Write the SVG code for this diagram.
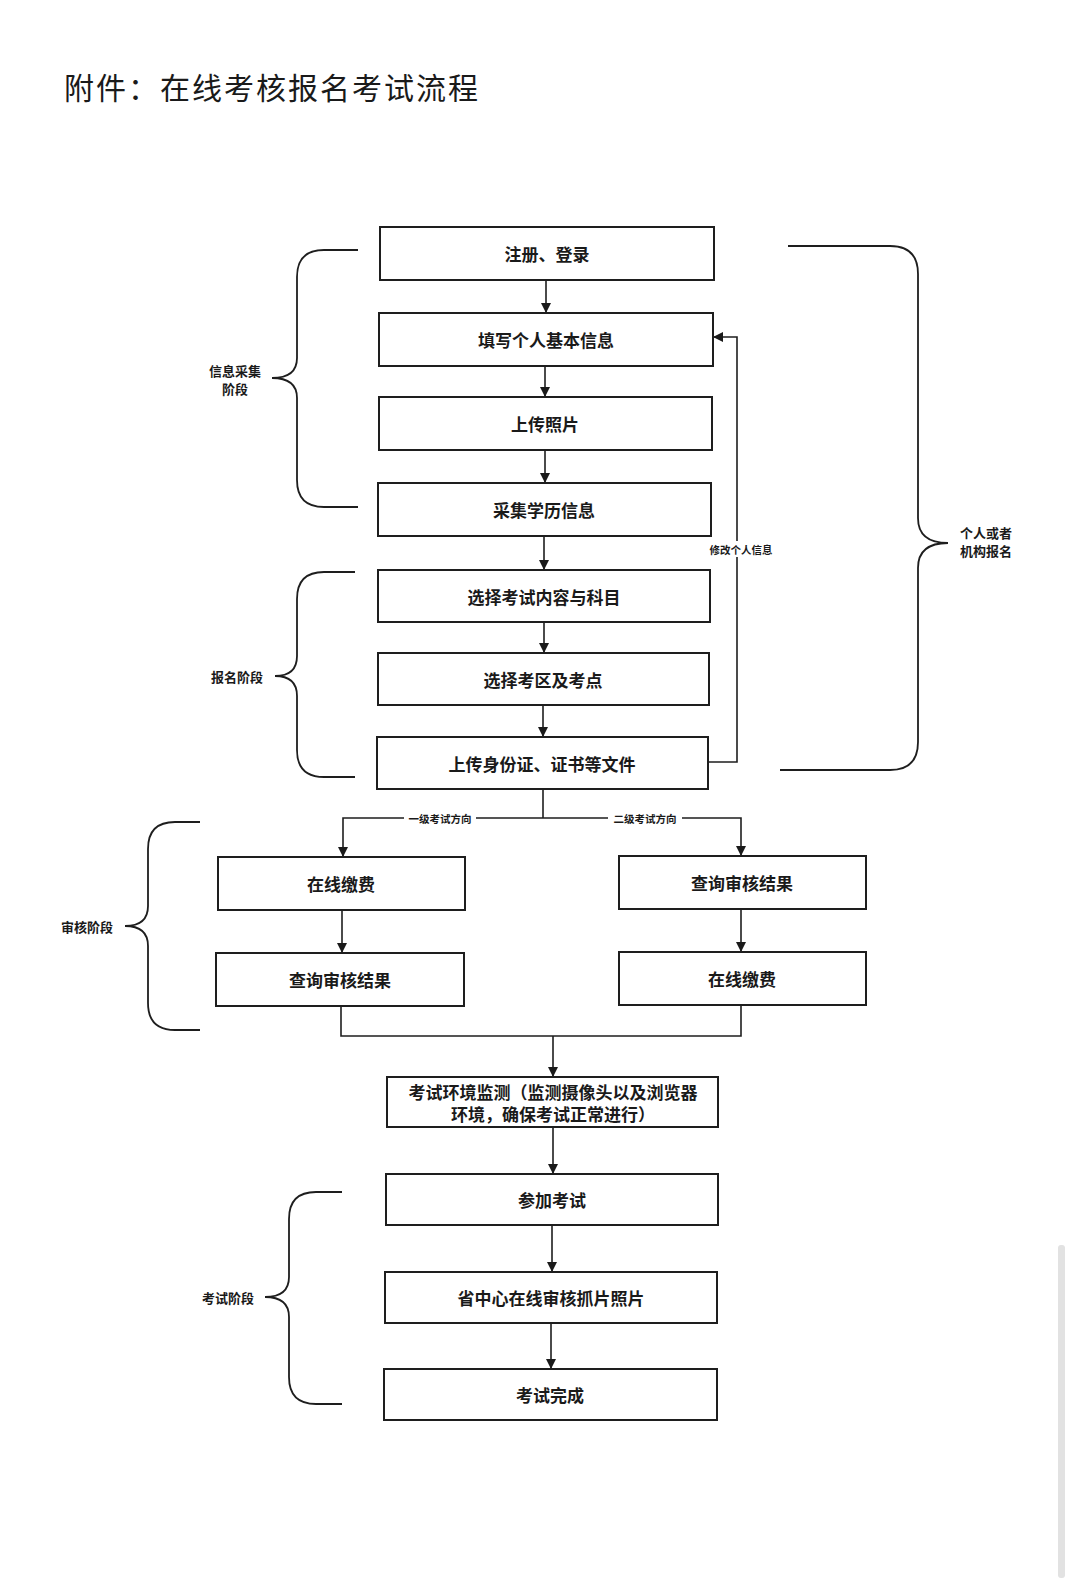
<svg xmlns="http://www.w3.org/2000/svg" width="1080" height="1578" viewBox="0 0 1080 1578">
<defs>
<marker id="ah" viewBox="0 0 10 10" refX="10" refY="5" markerWidth="10" markerHeight="10" markerUnits="userSpaceOnUse" orient="auto">
<path d="M0,0 L10,5 L0,10 Z" fill="#1a1a1a"/>
</marker>
<style>
.box{fill:#ffffff;stroke:#1e1e1e;stroke-width:2}
.t{font-family:"Noto Sans CJK SC","Noto Sans CJK TC",sans-serif;font-size:17px;font-weight:bold;fill:#1a1a1a;text-anchor:middle;dominant-baseline:central}
.s{font-family:"Noto Sans CJK SC",sans-serif;font-size:13px;font-weight:bold;fill:#1a1a1a;text-anchor:middle;dominant-baseline:central}
.xs{font-family:"Noto Sans CJK SC",sans-serif;font-size:10.5px;font-weight:bold;fill:#1a1a1a;text-anchor:middle;dominant-baseline:central}
.ln{fill:none;stroke:#1e1e1e;stroke-width:1.6}
.br{fill:none;stroke:#1e1e1e;stroke-width:1.8}
</style>
</defs>
<rect width="1080" height="1578" fill="#ffffff"/>
<text x="64" y="86" font-family="'Noto Sans CJK SC',sans-serif" font-size="30" fill="#1a1a1a" letter-spacing="2" dominant-baseline="central">附件：在线考核报名考试流程</text>

<g id="connectors">
<path class="ln" d="M546,280 V313" marker-end="url(#ah)"/>
<path class="ln" d="M545,366 V397" marker-end="url(#ah)"/>
<path class="ln" d="M545,450 V483" marker-end="url(#ah)"/>
<path class="ln" d="M544,536 V570" marker-end="url(#ah)"/>
<path class="ln" d="M544,622 V653" marker-end="url(#ah)"/>
<path class="ln" d="M543,705 V737" marker-end="url(#ah)"/>
<path class="ln" d="M708,762 H737 V337 H713" marker-end="url(#ah)"/>
<path class="ln" d="M543,789 V818"/>
<path class="ln" d="M543,818 H343 V857" marker-end="url(#ah)"/>
<path class="ln" d="M543,818 H741 V856" marker-end="url(#ah)"/>
<path class="ln" d="M342,910 V953" marker-end="url(#ah)"/>
<path class="ln" d="M741,909 V952" marker-end="url(#ah)"/>
<path class="ln" d="M341,1006 V1036 H741 V1005"/>
<path class="ln" d="M553,1036 V1077" marker-end="url(#ah)"/>
<path class="ln" d="M553,1127 V1174" marker-end="url(#ah)"/>
<path class="ln" d="M552,1225 V1272" marker-end="url(#ah)"/>
<path class="ln" d="M551,1323 V1369" marker-end="url(#ah)"/>
<rect x="404" y="811" width="72" height="14" fill="#ffffff"/>
<text class="xs" x="440" y="818">一级考试方向</text>
<rect x="608" y="811" width="74" height="14" fill="#ffffff"/>
<text class="xs" x="645" y="818">二级考试方向</text>
<rect x="703" y="541" width="76" height="16" fill="#ffffff"/>
<text class="xs" x="741" y="549">修改个人信息</text>
</g>

<g id="n1"><rect class="box" x="380" y="227" width="334" height="53"/><text class="t" x="547" y="253">注册、登录</text></g>
<g id="n2"><rect class="box" x="379" y="313" width="334" height="53"/><text class="t" x="546" y="339">填写个人基本信息</text></g>
<g id="n3"><rect class="box" x="379" y="397" width="333" height="53"/><text class="t" x="545" y="423">上传照片</text></g>
<g id="n4"><rect class="box" x="378" y="483" width="333" height="53"/><text class="t" x="544" y="509">采集学历信息</text></g>
<g id="n5"><rect class="box" x="378" y="570" width="332" height="52"/><text class="t" x="544" y="596">选择考试内容与科目</text></g>
<g id="n6"><rect class="box" x="378" y="653" width="331" height="52"/><text class="t" x="543" y="679">选择考区及考点</text></g>
<g id="n7"><rect class="box" x="377" y="737" width="331" height="52"/><text class="t" x="542" y="763">上传身份证、证书等文件</text></g>
<g id="n8"><rect class="box" x="218" y="857" width="247" height="53"/><text class="t" x="341" y="883">在线缴费</text></g>
<g id="n9"><rect class="box" x="216" y="953" width="248" height="53"/><text class="t" x="340" y="979">查询审核结果</text></g>
<g id="n10"><rect class="box" x="619" y="856" width="247" height="53"/><text class="t" x="742" y="882">查询审核结果</text></g>
<g id="n11"><rect class="box" x="619" y="952" width="247" height="53"/><text class="t" x="742" y="978">在线缴费</text></g>
<g id="n12"><rect class="box" x="387" y="1077" width="331" height="50"/><text class="t" x="553" y="1091" font-size="16">考试环境监测（监测摄像头以及浏览器</text><text class="t" x="553" y="1113" font-size="16">环境，确保考试正常进行）</text></g>
<g id="n13"><rect class="box" x="386" y="1174" width="332" height="51"/><text class="t" x="552" y="1199">参加考试</text></g>
<g id="n14"><rect class="box" x="385" y="1272" width="332" height="51"/><text class="t" x="551" y="1297">省中心在线审核抓片照片</text></g>
<g id="n15"><rect class="box" x="384" y="1369" width="333" height="51"/><text class="t" x="550" y="1394">考试完成</text></g>

<g id="brace-info">
<path class="br" d="M358,250 H324 Q297,250 297,277 V358 Q297,378 272,378 Q297,378 297,398 V480 Q297,507 324,507 H358"/>
<text class="s" x="235" y="370">信息采集</text><text class="s" x="235" y="388">阶段</text>
</g>
<g id="brace-signup">
<path class="br" d="M355,572 H324 Q297,572 297,599 V656 Q297,676 275,676 Q297,676 297,696 V750 Q297,777 324,777 H355"/>
<text class="s" x="237" y="676">报名阶段</text>
</g>
<g id="brace-review">
<path class="br" d="M200,822 H175 Q148,822 148,849 V906 Q148,926 125,926 Q148,926 148,946 V1003 Q148,1030 175,1030 H200"/>
<text class="s" x="87" y="926">审核阶段</text>
</g>
<g id="brace-exam">
<path class="br" d="M342,1192 H316 Q289,1192 289,1219 V1277 Q289,1297 265,1297 Q289,1297 289,1317 V1377 Q289,1404 316,1404 H342"/>
<text class="s" x="228" y="1297">考试阶段</text>
</g>
<g id="brace-right">
<path class="br" d="M788,246 H890 Q918,246 918,274 V518 Q918,543 948,543 Q918,543 918,568 V742 Q918,770 890,770 H780"/>
<text class="s" x="986" y="532">个人或者</text><text class="s" x="986" y="550">机构报名</text>
</g>
<rect x="1058" y="1245" width="7" height="333" rx="3" fill="#e2e2e2"/>
</svg>
